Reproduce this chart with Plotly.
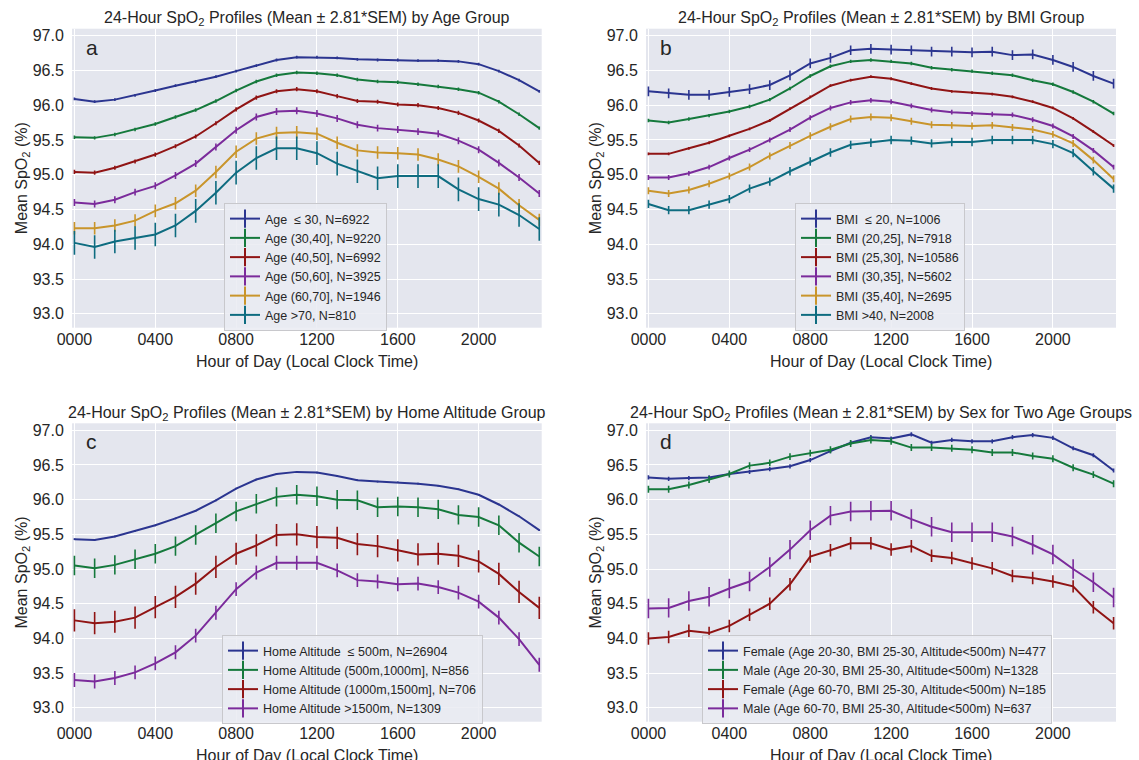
import plotly.graph_objects as go

hours = list(range(24))
tick_vals = [0, 4, 8, 12, 16, 20]
tick_text = ["0000", "0400", "0800", "1200", "1600", "2000"]
y_ticks = [93.0, 93.5, 94.0, 94.5, 95.0, 95.5, 96.0, 96.5, 97.0]

# ---- Panel a: Age groups ----
age_labels = ["Age \u00a0\u2264 30, N=6922", "Age (30,40], N=9220", "Age (40,50], N=6992",
              "Age (50,60], N=3925", "Age (60,70], N=1946", "Age >70, N=810"]
age_le30 = [96.09, 96.05, 96.08, 96.14, 96.21, 96.28, 96.34, 96.41, 96.49, 96.57, 96.65, 96.69,
            96.69, 96.68, 96.66, 96.65, 96.65, 96.64, 96.64, 96.63, 96.59, 96.49, 96.36, 96.20]
age_30_40 = [95.54, 95.53, 95.58, 95.65, 95.73, 95.83, 95.93, 96.06, 96.21, 96.34, 96.43, 96.47,
             96.46, 96.43, 96.37, 96.34, 96.33, 96.30, 96.27, 96.23, 96.18, 96.05, 95.87, 95.67]
age_40_50 = [95.04, 95.03, 95.10, 95.19, 95.29, 95.41, 95.55, 95.74, 95.94, 96.11, 96.20, 96.23,
             96.20, 96.13, 96.06, 96.05, 96.01, 96.00, 95.96, 95.89, 95.78, 95.63, 95.42, 95.17]
age_50_60 = [94.60, 94.58, 94.64, 94.75, 94.84, 94.99, 95.16, 95.40, 95.64, 95.83, 95.91, 95.92,
             95.88, 95.81, 95.72, 95.67, 95.65, 95.62, 95.59, 95.49, 95.36, 95.17, 94.96, 94.73]
age_60_70 = [94.23, 94.23, 94.27, 94.34, 94.48, 94.59, 94.77, 95.04, 95.33, 95.52, 95.60, 95.61,
             95.59, 95.46, 95.35, 95.32, 95.31, 95.29, 95.22, 95.12, 94.97, 94.80, 94.56, 94.35]
age_gt70 = [94.02, 93.96, 94.04, 94.09, 94.14, 94.27, 94.48, 94.74, 95.03, 95.24, 95.38, 95.38,
            95.31, 95.16, 95.05, 94.95, 94.98, 94.98, 94.98, 94.79, 94.65, 94.57, 94.42, 94.22]
age_err = [0.02, 0.025, 0.03, 0.05, 0.09, 0.17]

# ---- Panel b: BMI groups ----
bmi_labels = ["BMI \u00a0\u2264 20, N=1006", "BMI (20,25], N=7918", "BMI (25,30], N=10586",
              "BMI (30,35], N=5602", "BMI (35,40], N=2695", "BMI >40, N=2008"]
bmi_le20 = [96.20, 96.17, 96.15, 96.15, 96.19, 96.23, 96.29, 96.43, 96.60, 96.68, 96.79, 96.81,
            96.80, 96.79, 96.77, 96.77, 96.76, 96.77, 96.72, 96.73, 96.65, 96.55, 96.42, 96.31]
bmi_20_25 = [95.78, 95.75, 95.80, 95.85, 95.91, 95.98, 96.08, 96.24, 96.42, 96.56, 96.63, 96.65,
             96.63, 96.60, 96.54, 96.51, 96.49, 96.46, 96.43, 96.36, 96.30, 96.19, 96.05, 95.88]
bmi_25_30 = [95.30, 95.30, 95.38, 95.46, 95.56, 95.66, 95.78, 95.95, 96.12, 96.28, 96.36, 96.41,
             96.38, 96.31, 96.24, 96.20, 96.18, 96.16, 96.12, 96.05, 95.96, 95.81, 95.62, 95.42]
bmi_30_35 = [94.96, 94.96, 95.02, 95.11, 95.24, 95.36, 95.50, 95.65, 95.82, 95.96, 96.04, 96.07,
             96.05, 95.99, 95.93, 95.90, 95.88, 95.87, 95.86, 95.79, 95.70, 95.55, 95.35, 95.11]
bmi_35_40 = [94.77, 94.73, 94.78, 94.87, 94.98, 95.11, 95.27, 95.42, 95.56, 95.69, 95.80, 95.83,
             95.82, 95.77, 95.72, 95.71, 95.70, 95.71, 95.68, 95.65, 95.58, 95.45, 95.21, 94.94]
bmi_gt40 = [94.58, 94.49, 94.49, 94.57, 94.65, 94.80, 94.90, 95.05, 95.19, 95.32, 95.43, 95.46,
            95.50, 95.49, 95.45, 95.47, 95.47, 95.50, 95.50, 95.50, 95.44, 95.31, 95.05, 94.80]
bmi_err = [0.07, 0.025, 0.02, 0.035, 0.05, 0.06]

# ---- Panel c: Home altitude groups ----
alt_labels = ["Home Altitude \u00a0\u2264 500m, N=26904", "Home Altitude (500m,1000m], N=856",
              "Home Altitude (1000m,1500m], N=706", "Home Altitude >1500m, N=1309"]
alt_le500 = [95.43, 95.42, 95.47, 95.55, 95.63, 95.73, 95.84, 95.99, 96.16, 96.29, 96.37, 96.40,
             96.39, 96.34, 96.28, 96.26, 96.25, 96.23, 96.20, 96.15, 96.07, 95.93, 95.76, 95.56]
alt_500_1000 = [95.05, 95.01, 95.06, 95.14, 95.22, 95.33, 95.49, 95.66, 95.83, 95.94, 96.04, 96.07,
                96.05, 96.00, 95.99, 95.89, 95.90, 95.89, 95.86, 95.78, 95.75, 95.63, 95.38, 95.18]
alt_1000_1500 = [94.26, 94.22, 94.24, 94.30, 94.45, 94.60, 94.79, 95.03, 95.22, 95.34, 95.49, 95.50,
                 95.46, 95.45, 95.36, 95.33, 95.27, 95.21, 95.22, 95.19, 95.11, 94.93, 94.67, 94.44]
alt_gt1500 = [93.40, 93.38, 93.43, 93.51, 93.64, 93.80, 94.04, 94.37, 94.71, 94.95, 95.09, 95.09,
              95.09, 94.98, 94.84, 94.82, 94.78, 94.79, 94.74, 94.66, 94.53, 94.30, 93.99, 93.62]
alt_err = [0.012, 0.14, 0.16, 0.10]

# ---- Panel d: Sex for two age groups ----
sex_labels = ["Female (Age 20-30, BMI 25-30, Altitude<500m) N=477",
              "Male (Age 20-30, BMI 25-30, Altitude<500m) N=1328",
              "Female (Age 60-70, BMI 25-30, Altitude<500m) N=185",
              "Male (Age 60-70, BMI 25-30, Altitude<500m) N=637"]
f_20_30 = [96.32, 96.30, 96.31, 96.32, 96.37, 96.40, 96.44, 96.48, 96.57, 96.70, 96.82, 96.90,
           96.88, 96.94, 96.82, 96.86, 96.84, 96.84, 96.90, 96.93, 96.89, 96.74, 96.64, 96.42]
m_20_30 = [96.15, 96.15, 96.21, 96.29, 96.37, 96.49, 96.53, 96.62, 96.67, 96.72, 96.81, 96.86,
           96.84, 96.75, 96.75, 96.74, 96.72, 96.68, 96.68, 96.63, 96.59, 96.46, 96.36, 96.23]
f_60_70 = [94.00, 94.02, 94.11, 94.08, 94.18, 94.34, 94.50, 94.78, 95.18, 95.27, 95.37, 95.37,
           95.28, 95.33, 95.19, 95.16, 95.08, 95.01, 94.90, 94.87, 94.82, 94.75, 94.45, 94.22]
m_60_70 = [94.43, 94.44, 94.54, 94.60, 94.72, 94.82, 95.03, 95.28, 95.56, 95.77, 95.83, 95.84,
           95.84, 95.72, 95.61, 95.53, 95.53, 95.53, 95.47, 95.35, 95.21, 95.00, 94.81, 94.59]
sex_err = [0.03, 0.05, 0.09, 0.14]

colors6 = ["#2b3590", "#15793c", "#901414", "#7b2b9b", "#c9952b", "#0e6c80"]
colors4 = colors6[:4]

panels = [
    dict(series=[age_le30, age_30_40, age_40_50, age_50_60, age_60_70, age_gt70], labels=age_labels,
         errs=age_err, colors=colors6, xa="x", ya="y", legend="legend",
         title="24-Hour SpO<sub>2</sub> Profiles (Mean \u00b1 2.81*SEM) by Age Group", letter="a"),
    dict(series=[bmi_le20, bmi_20_25, bmi_25_30, bmi_30_35, bmi_35_40, bmi_gt40], labels=bmi_labels,
         errs=bmi_err, colors=colors6, xa="x2", ya="y2", legend="legend2",
         title="24-Hour SpO<sub>2</sub> Profiles (Mean \u00b1 2.81*SEM) by BMI Group", letter="b"),
    dict(series=[alt_le500, alt_500_1000, alt_1000_1500, alt_gt1500], labels=alt_labels,
         errs=alt_err, colors=colors4, xa="x3", ya="y3", legend="legend3",
         title="24-Hour SpO<sub>2</sub> Profiles (Mean \u00b1 2.81*SEM) by Home Altitude Group", letter="c"),
    dict(series=[f_20_30, m_20_30, f_60_70, m_60_70], labels=sex_labels,
         errs=sex_err, colors=colors4, xa="x4", ya="y4", legend="legend4",
         title="24-Hour SpO<sub>2</sub> Profiles (Mean \u00b1 2.81*SEM) by Sex for Two Age Groups", letter="d"),
]

W, H = 1139, 760
# plot areas in pixels: (left, right, top, bottom)
boxes = [(72, 541.7, 28.7, 327.7), (646, 1116, 28.7, 327.7),
         (72, 541.7, 423.3, 721.7), (646, 1116, 423.3, 721.7)]
legend_pos = [(224, 203), (795, 203), (222, 635), (702, 635)]

FONT = "Liberation Sans, Arial, sans-serif"
TXT = "#262626"
BG = "#E4E6EE"

fig = go.Figure()
layout = dict(width=W, height=H, margin=dict(l=0, r=0, t=0, b=0), autosize=False,
              paper_bgcolor="white", plot_bgcolor=BG, font=dict(family=FONT, color=TXT, size=16),
              showlegend=True, annotations=[])

for i, p in enumerate(panels):
    for s, lab, e, c in zip(p["series"], p["labels"], p["errs"], p["colors"]):
        fig.add_trace(go.Scatter(x=hours, y=s, mode="lines", xaxis=p["xa"], yaxis=p["ya"],
                                 line=dict(color=c, width=2), showlegend=False, hoverinfo="skip",
                                 error_y=dict(type="constant", value=e, color=c, thickness=1.6, width=0)))
        fig.add_trace(go.Scatter(x=[None], y=[None], mode="lines+markers", xaxis=p["xa"], yaxis=p["ya"],
                                 name=lab, legend=p["legend"],
                                 line=dict(color=c, width=2),
                                 marker=dict(symbol="line-ns-open", size=13, color=c,
                                             line=dict(color=c, width=2))))
    l, r, t, b = boxes[i]
    sfx = "" if i == 0 else str(i + 1)
    layout["xaxis" + sfx] = dict(domain=[l / W, r / W], anchor="y" + sfx, range=[-0.12, 23.12],
                                 tickvals=tick_vals, ticktext=tick_text, showgrid=True,
                                 gridcolor="white", gridwidth=1.3, zeroline=False, showline=False,
                                 ticks="", tickfont=dict(size=16, color=TXT), automargin=False)
    layout["yaxis" + sfx] = dict(domain=[1 - b / H, 1 - t / H], anchor="x" + sfx, range=[92.8, 97.1],
                                 tickvals=y_ticks, tickformat=".1f", showgrid=True,
                                 gridcolor="white", gridwidth=1.3, zeroline=False, showline=False,
                                 ticks="outside", ticklen=4, tickcolor="rgba(0,0,0,0)",
                                 tickfont=dict(size=16, color=TXT), automargin=False)
    lx, ly = legend_pos[i]
    layout[p["legend"]] = dict(x=lx / W, y=1 - ly / H, xanchor="left", yanchor="top",
                               bgcolor="rgba(234,235,242,0.85)", bordercolor="#c8c8cc", borderwidth=1,
                               font=dict(size=12.5, color=TXT, family=FONT), itemwidth=30,
                               tracegroupgap=0)
    cx = (l + r) / 2
    layout["annotations"].append(dict(text=p["title"], x=cx / W, y=1 - (t - 10) / H,
                                      xref="paper", yref="paper", showarrow=False,
                                      xanchor="center", yanchor="middle",
                                      font=dict(size=16, color=TXT, family=FONT)))
    layout["annotations"].append(dict(text=p["letter"], x=(l + 19.5) / W, y=1 - (t + 18.5) / H,
                                      xref="paper", yref="paper", showarrow=False,
                                      xanchor="center", yanchor="middle",
                                      font=dict(size=21, color=TXT, family=FONT)))
    layout["annotations"].append(dict(text="Mean SpO<sub>2</sub> (%)", x=(l - 50) / W, y=1 - ((t + b) / 2) / H,
                                      xref="paper", yref="paper", showarrow=False, textangle=-90,
                                      xanchor="center", yanchor="middle",
                                      font=dict(size=16, color=TXT, family=FONT)))
    layout["annotations"].append(dict(text="Hour of Day (Local Clock Time)", x=cx / W, y=1 - (b + 34) / H,
                                      xref="paper", yref="paper", showarrow=False,
                                      xanchor="center", yanchor="middle",
                                      font=dict(size=16, color=TXT, family=FONT)))

fig.update_layout(**layout)
fig.write_html("out.html", config={"displayModeBar": False},
               post_script="document.body.style.margin='0';document.body.style.overflow='hidden';")
